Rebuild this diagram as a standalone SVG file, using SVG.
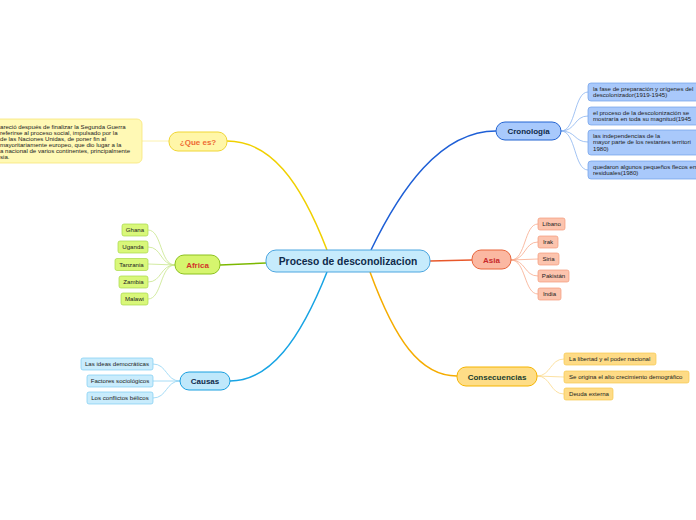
<svg xmlns="http://www.w3.org/2000/svg" width="696" height="520" viewBox="0 0 696 520">
<style>
text{font-family:"Liberation Sans",Arial,sans-serif;}
.main{font-size:8px;font-weight:bold;text-anchor:middle;}
.sub{font-size:6.1px;fill:#222;}
.subc{font-size:6.1px;fill:#222;text-anchor:middle;}
.c{fill:none;stroke-width:1.5;}
.t{fill:none;stroke-width:0.8;}
</style>
<rect width="696" height="520" fill="#fff"/>
<g id="connectors">
<path class="c" stroke="#f0d000" d="M327,250 C300,180 270,141 227,141"/>
<path class="c" stroke="#1e5fd6" d="M371,250 C400,190 440,131 496,131"/>
<path class="c" stroke="#e8582a" d="M430,261 L472,260"/>
<path class="c" stroke="#f5ac00" d="M370,272 C395,340 420,376 457,376"/>
<path class="c" stroke="#18a4e4" d="M327,272 C300,340 270,381 230,381"/>
<path class="c" stroke="#7cb800" d="M266,263 L220,265"/>
<path class="t" stroke="#fbef9a" stroke-width="1.2" d="M169,141 L142,141"/>
<g stroke="#8ab4f0">
<path class="t" d="M561,131 C576,131 574,92 588,92"/>
<path class="t" d="M561,131 C576,131 574,116 588,116"/>
<path class="t" d="M561,131 C576,131 574,142 588,142"/>
<path class="t" d="M561,131 C576,131 574,170 588,170"/>
</g>
<g stroke="#f8a98c">
<path class="t" d="M511,260 C526,260 524,224 538,224"/>
<path class="t" d="M511,260 C526,260 524,242 538,242"/>
<path class="t" d="M511,260 L538,259"/>
<path class="t" d="M511,260 C526,260 524,276 538,276"/>
<path class="t" d="M511,260 C526,260 524,294 538,294"/>
</g>
<g stroke="#c8e68a">
<path class="t" d="M175,265 C160,265 162,230 148,230"/>
<path class="t" d="M175,265 C160,265 162,247 148,247"/>
<path class="t" d="M175,265 L148,264"/>
<path class="t" d="M175,265 C160,265 162,282 148,282"/>
<path class="t" d="M175,265 C160,265 162,299 148,299"/>
</g>
<g stroke="#8fd3f4">
<path class="t" d="M180,381 C166,381 167,364 153,364"/>
<path class="t" d="M180,381 L153,381"/>
<path class="t" d="M180,381 C166,381 167,398 153,398"/>
</g>
<g stroke="#fbd98a">
<path class="t" d="M537,376 C551,376 550,359 564,359"/>
<path class="t" d="M537,376 L564,377"/>
<path class="t" d="M537,376 C551,376 550,394 564,394"/>
</g>
</g>
<g id="central">
<rect x="266" y="250" width="164" height="22" rx="10" fill="#c6ebfc" stroke="#4ca6e0" stroke-width="1"/>
<text x="348" y="264.5" font-size="10.3" font-weight="bold" fill="#0f2a4a" text-anchor="middle">Proceso de desconolizacion</text>
</g>
<g id="quees">
<rect x="169" y="132" width="58" height="19" rx="9" fill="#fff6a8" stroke="#f0d634"/>
<text class="main" x="198" y="144.5" fill="#ee6a34">¿Que es?</text>
</g>
<g id="quees-text">
<rect x="-10" y="119" width="152" height="44" rx="5" fill="#fff9b5" stroke="#f7e67a" stroke-width="0.8"/>
<text class="sub" x="0" y="128.5">areció después de finalizar la Segunda Guerra</text>
<text class="sub" x="0" y="134.5">referirse al proceso social, impulsado por la</text>
<text class="sub" x="0" y="140.5">de las Naciones Unidas, de poner fin al</text>
<text class="sub" x="0" y="146.5">mayoritariamente europeo, que dio lugar a la</text>
<text class="sub" x="0" y="152.5">a nacional de varios continentes, principalmente</text>
<text class="sub" x="0" y="158.5">sia.</text>
</g>
<g id="africa">
<rect x="175" y="255" width="45" height="19" rx="9" fill="#d6f56e" stroke="#8cc21e"/>
<text class="main" x="197.5" y="267.5" fill="#d2352a">Africa</text>
</g>
<g fill="#d9f77a" stroke="#a8d848" stroke-width="0.7">
<g id="ghana"><rect x="122" y="224" width="26" height="12" rx="2"/><text class="subc" x="135" y="232" stroke="none">Ghana</text></g>
<g id="uganda"><rect x="118" y="241" width="30" height="12" rx="2"/><text class="subc" x="133" y="249" stroke="none">Uganda</text></g>
<g id="tanzania"><rect x="115" y="258.5" width="33" height="12" rx="2"/><text class="subc" x="131.5" y="266.5" stroke="none">Tanzania</text></g>
<g id="zambia"><rect x="119" y="276" width="29" height="12" rx="2"/><text class="subc" x="133.5" y="284" stroke="none">Zambia</text></g>
<g id="malawi"><rect x="121" y="293" width="27" height="12" rx="2"/><text class="subc" x="134.5" y="301" stroke="none">Malawi</text></g>
</g>
<g id="causas">
<rect x="180" y="372" width="50" height="18" rx="9" fill="#bfe8fb" stroke="#1aa0e0"/>
<text class="main" x="205" y="384" fill="#0f2a4a">Causas</text>
</g>
<g fill="#c9ecfc" stroke="#7ccdf2" stroke-width="0.7">
<g id="ideas"><rect x="81" y="358" width="72" height="12" rx="2"/><text class="subc" x="117" y="366" stroke="none">Las ideas democráticas</text></g>
<g id="factores"><rect x="87" y="375" width="66" height="12" rx="2"/><text class="subc" x="120" y="383" stroke="none">Factores sociológicos</text></g>
<g id="conflictos"><rect x="87" y="392" width="66" height="12" rx="2"/><text class="subc" x="120" y="400" stroke="none">Los conflictos bélicos</text></g>
</g>
<g id="cronologia">
<rect x="496" y="122" width="65" height="18" rx="9" fill="#a8c9fc" stroke="#2364d2"/>
<text class="main" x="528.5" y="134" fill="#0f2a4a">Cronología</text>
</g>
<g fill="#a9c9fb" stroke="#6f9ee8" stroke-width="0.7">
<g id="c1"><rect x="588" y="83" width="115" height="18" rx="3"/><text class="sub" x="593" y="90.5" stroke="none">la fase de preparación y orígenes del</text><text class="sub" x="593" y="96.5" stroke="none">descolonizador(1919-1945)</text></g>
<g id="c2"><rect x="588" y="107" width="115" height="18" rx="3"/><text class="sub" x="593" y="114.5" stroke="none">el proceso de la descolonización se</text><text class="sub" x="593" y="120.5" stroke="none">mostraría en toda su magnitud(1945</text></g>
<g id="c3"><rect x="588" y="130" width="115" height="25" rx="3"/><text class="sub" x="593" y="138" stroke="none">las independencias de la</text><text class="sub" x="593" y="144" stroke="none">mayor parte de los restantes territori</text><text class="sub" x="593" y="150.5" stroke="none">1980)</text></g>
<g id="c4"><rect x="588" y="161" width="115" height="18" rx="3"/><text class="sub" x="593" y="168.5" stroke="none">quedaron algunos pequeños flecos en</text><text class="sub" x="593" y="174.5" stroke="none">residuales(1980)</text></g>
</g>
<g id="asia">
<rect x="472" y="250" width="39" height="19" rx="9" fill="#fbb8a2" stroke="#e8643a"/>
<text class="main" x="491.5" y="262.5" fill="#c8282a">Asia</text>
</g>
<g fill="#fcc4ae" stroke="#f49a7a" stroke-width="0.7">
<g id="libano"><rect x="538" y="218" width="27" height="12" rx="2"/><text class="subc" x="551.5" y="226" stroke="none">Líbano</text></g>
<g id="irak"><rect x="538" y="236" width="20" height="12" rx="2"/><text class="subc" x="548" y="244" stroke="none">Irak</text></g>
<g id="siria"><rect x="538" y="253" width="21" height="12" rx="2"/><text class="subc" x="548.5" y="261" stroke="none">Siria</text></g>
<g id="pakistan"><rect x="538" y="270" width="31" height="12" rx="2"/><text class="subc" x="553.5" y="278" stroke="none">Pakistán</text></g>
<g id="india"><rect x="538" y="288" width="23" height="12" rx="2"/><text class="subc" x="549.5" y="296" stroke="none">India</text></g>
</g>
<g id="consecuencias">
<rect x="457" y="367" width="80" height="19" rx="9" fill="#fedd87" stroke="#f5b400"/>
<text class="main" x="497" y="379.5" fill="#1a3d2e">Consecuencias</text>
</g>
<g fill="#fedb86" stroke="#f7c84e" stroke-width="0.7">
<g id="libertad"><rect x="564" y="353" width="92" height="12" rx="2"/><text class="sub" x="569" y="361" stroke="none">La libertad y el poder nacional</text></g>
<g id="crecimiento"><rect x="564" y="371" width="125" height="12" rx="2"/><text class="sub" x="569" y="379" stroke="none">Se origina el alto crecimiento demográfico</text></g>
<g id="deuda"><rect x="564" y="388" width="49" height="12" rx="2"/><text class="sub" x="569" y="396" stroke="none">Deuda externa</text></g>
</g>
</svg>
